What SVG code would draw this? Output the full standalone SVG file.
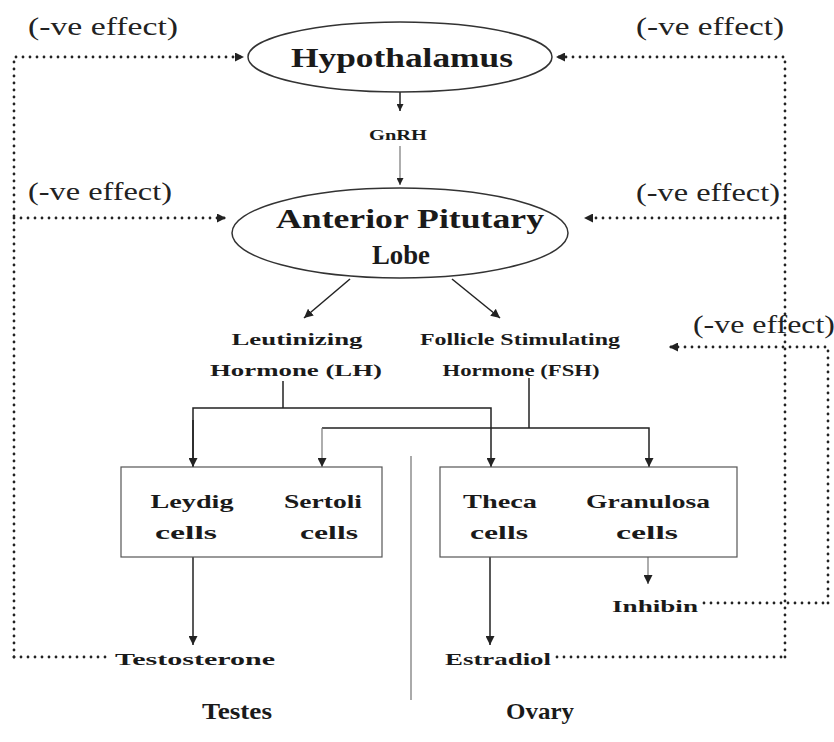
<svg xmlns="http://www.w3.org/2000/svg" width="834" height="742" viewBox="0 0 834 742">
<defs>
<marker id="ah" viewBox="0 0 10 10" refX="10" refY="5" markerWidth="9" markerHeight="9" markerUnits="userSpaceOnUse" orient="auto"><path d="M0,0 L10,5 L0,10 z" fill="#222"/></marker>
<marker id="ahs" viewBox="0 0 10 10" refX="10" refY="5" markerWidth="7" markerHeight="7" markerUnits="userSpaceOnUse" orient="auto"><path d="M0,0 L10,5 L0,10 z" fill="#222"/></marker>
</defs>
<style>
.bg{fill:#ffffff}
.ell{fill:none;stroke:#333;stroke-width:1.5}
.box{fill:none;stroke:#555;stroke-width:1.2}
.ln{fill:none;stroke:#222;stroke-width:1.5}
.thin{fill:none;stroke:#777;stroke-width:1.2}
.dot{fill:none;stroke:#222;stroke-width:2.8;stroke-linecap:round;stroke-dasharray:0 7}
.neg{font-family:"Liberation Serif",serif;font-size:25px;fill:#222}
.b{font-family:"Liberation Serif",serif;font-weight:bold;fill:#1a1a1a;text-anchor:middle}
.t24{font-size:28px}
.t16{font-size:17px}
.t18{font-size:19px}
.t22{font-size:24px}
.t14{font-size:15px}
.div{stroke:#aaa;stroke-width:2}
</style>
<rect class="bg" x="0" y="0" width="834" height="742"/>
<line class="div" x1="411" y1="456" x2="411" y2="700"/>
<g id="connectors">
<path class="dot" d="M14,657 V57 H244" marker-end="url(#ah)"/>
<path class="dot" d="M14,218 H226" marker-end="url(#ah)"/>
<path class="dot" d="M785,657 V57 H556" marker-end="url(#ah)"/>
<path class="dot" d="M785,218 H584" marker-end="url(#ah)"/>
<path class="dot" d="M828,603 V347 H669" marker-end="url(#ah)"/>
<path class="dot" d="M14,657 H110"/>
<path class="dot" d="M557,657 H785"/>
<path class="dot" d="M704,603 H828"/>
<path class="ln" d="M400,92 V111" marker-end="url(#ahs)"/>
<path class="thin" d="M400,146 V185" marker-end="url(#ahs)"/>
<path class="ln" d="M350,279 L304,318" marker-end="url(#ah)"/>
<path class="ln" d="M452,279 L500,318" marker-end="url(#ah)"/>
<path class="ln" d="M283,381 V408"/>
<path class="ln" d="M193,467 V408 H491 V467" marker-end="url(#ah)"/>
<path class="ln" d="M193,420 V467" marker-end="url(#ah)"/>
<path class="ln" d="M529,378 V428"/>
<path class="ln" d="M322,428 H649 V467" marker-end="url(#ah)"/>
<path class="thin" d="M322,428 V467" marker-end="url(#ah)"/>
<path class="ln" d="M193,557 V645" marker-end="url(#ah)"/>
<path class="ln" d="M490,557 V645" marker-end="url(#ah)"/>
<path class="thin" d="M648,557 V584" marker-end="url(#ah)"/>
</g>
<g id="labels">
<text class="neg" x="28" y="35" textLength="150" lengthAdjust="spacingAndGlyphs">(-ve effect)</text>
<text class="neg" x="636" y="35" textLength="148" lengthAdjust="spacingAndGlyphs">(-ve effect)</text>
<text class="neg" x="28" y="200" textLength="144" lengthAdjust="spacingAndGlyphs">(-ve effect)</text>
<text class="neg" x="636" y="201" textLength="144" lengthAdjust="spacingAndGlyphs">(-ve effect)</text>
<text class="neg" x="693" y="333" textLength="142" lengthAdjust="spacingAndGlyphs">(-ve effect)</text>
</g>
<g id="hypothalamus">
<ellipse class="ell" cx="400" cy="57" rx="152" ry="35"/>
<text class="b t24" x="402" y="67" textLength="222" lengthAdjust="spacingAndGlyphs">Hypothalamus</text>
</g>
<g id="gnrh">
<text class="b t14" x="398" y="140" textLength="58" lengthAdjust="spacingAndGlyphs">GnRH</text>
</g>
<g id="anterior-pituitary">
<ellipse class="ell" cx="400" cy="233" rx="168" ry="45"/>
<text class="b t24" x="410" y="228" textLength="268" lengthAdjust="spacingAndGlyphs">Anterior Pitutary</text>
<text class="b t24" x="401" y="264" textLength="58" lengthAdjust="spacingAndGlyphs">Lobe</text>
</g>
<g id="lh">
<text class="b t16" x="297" y="345" textLength="131" lengthAdjust="spacingAndGlyphs">Leutinizing</text>
<text class="b t16" x="296" y="376" textLength="172" lengthAdjust="spacingAndGlyphs">Hormone (LH)</text>
</g>
<g id="fsh">
<text class="b t16" x="520" y="345" textLength="200" lengthAdjust="spacingAndGlyphs">Follicle Stimulating</text>
<text class="b t16" x="521" y="376" textLength="157" lengthAdjust="spacingAndGlyphs">Hormone (FSH)</text>
</g>
<g id="testes-box">
<rect class="box" x="121" y="467" width="261" height="90"/>
<text class="b t18" x="192" y="508" textLength="83" lengthAdjust="spacingAndGlyphs">Leydig</text>
<text class="b t18" x="186" y="539" textLength="62" lengthAdjust="spacingAndGlyphs">cells</text>
<text class="b t18" x="323" y="508" textLength="78" lengthAdjust="spacingAndGlyphs">Sertoli</text>
<text class="b t18" x="329" y="539" textLength="58" lengthAdjust="spacingAndGlyphs">cells</text>
</g>
<g id="ovary-box">
<rect class="box" x="440" y="467" width="297" height="90"/>
<text class="b t18" x="500" y="508" textLength="74" lengthAdjust="spacingAndGlyphs">Theca</text>
<text class="b t18" x="499" y="539" textLength="58" lengthAdjust="spacingAndGlyphs">cells</text>
<text class="b t18" x="648" y="508" textLength="124" lengthAdjust="spacingAndGlyphs">Granulosa</text>
<text class="b t18" x="647" y="539" textLength="62" lengthAdjust="spacingAndGlyphs">cells</text>
</g>
<g id="testosterone">
<text class="b t16" x="195" y="665" textLength="160" lengthAdjust="spacingAndGlyphs">Testosterone</text>
</g>
<g id="estradiol">
<text class="b t16" x="498" y="665" textLength="106" lengthAdjust="spacingAndGlyphs">Estradiol</text>
</g>
<g id="inhibin">
<text class="b t16" x="655" y="612" textLength="86" lengthAdjust="spacingAndGlyphs">Inhibin</text>
</g>
<g id="testes-label">
<text class="b t22" x="237" y="719" textLength="70" lengthAdjust="spacingAndGlyphs">Testes</text>
</g>
<g id="ovary-label">
<text class="b t22" x="540" y="719" textLength="68" lengthAdjust="spacingAndGlyphs">Ovary</text>
</g>
</svg>
